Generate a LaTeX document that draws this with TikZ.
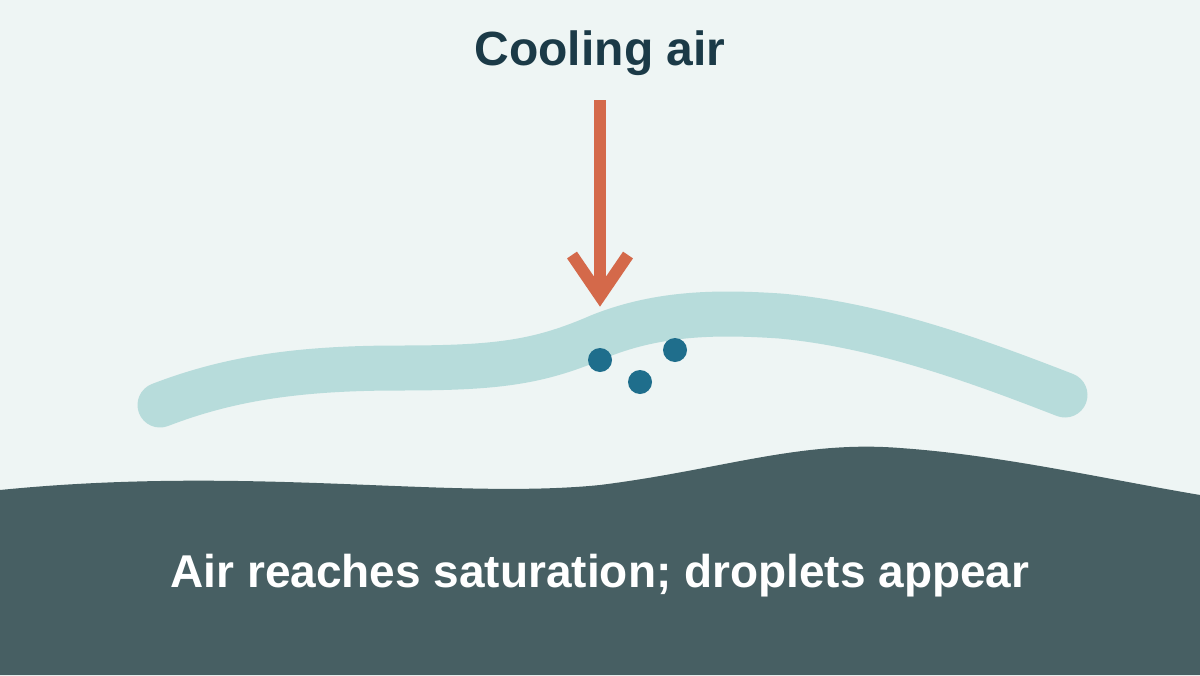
\documentclass[tikz,border=0pt]{standalone}
\usepackage{fontspec}
\setmainfont{Liberation Sans}
\definecolor{bgc}{HTML}{EEF5F4}
\definecolor{groundc}{HTML}{475F63}
\definecolor{bandc}{HTML}{B7DCDB}
\definecolor{arrowc}{HTML}{D4694A}
\definecolor{dropc}{HTML}{1F6E8C}
\definecolor{titlec}{HTML}{1B3A47}
\tikzset{
  drop/.style={circle, fill=dropc, inner sep=0pt, minimum size=18pt},
  label/.style={font=\bfseries\fontsize{36}{42}\selectfont}
}
\begin{document}
\begin{tikzpicture}[x=0.75pt, y=-0.75pt]

% Background
\fill[bgc] (0,0) rectangle (1200,675);
\useasboundingbox (0,0) rectangle (1200,675);

% Ground
\fill[groundc] (0,490) .. controls (250,465) and (450,500) .. (600,485)
    .. controls (720,470) and (800,440) .. (900,448)
    .. controls (1000,455) and (1100,478) .. (1200,495)
    -- (1200,675) -- (0,675) -- cycle;

% Air band
\draw[bandc, line width=33.75pt, line cap=round]
    (160,405) .. controls (230,378) and (300,368) .. (400,368)
    .. controls (500,368) and (540,362) .. (600,336)
    .. controls (660,312) and (720,312) .. (780,316)
    .. controls (880,325) and (980,362) .. (1065,395);

% Droplets
\node[drop] (d1) at (600,360) {};
\node[drop] (d2) at (675,350) {};
\node[drop] (d3) at (640,382) {};

% Cooling arrow
\coordinate (top) at (600,100);
\coordinate (tip) at (600,296);
\draw[arrowc, line width=9pt] (top) -- (tip);
\draw[arrowc, line width=9pt, line join=miter] (572,255) -- (tip) -- (628,255);

% Labels
\node[label, text=titlec] (title) at (600,53) {Cooling air};
\node[label, font=\bfseries\fontsize{34.5}{40}\selectfont, text=white] (caption) at (600,576) {Air reaches saturation; droplets appear};

\end{tikzpicture}
\end{document}
